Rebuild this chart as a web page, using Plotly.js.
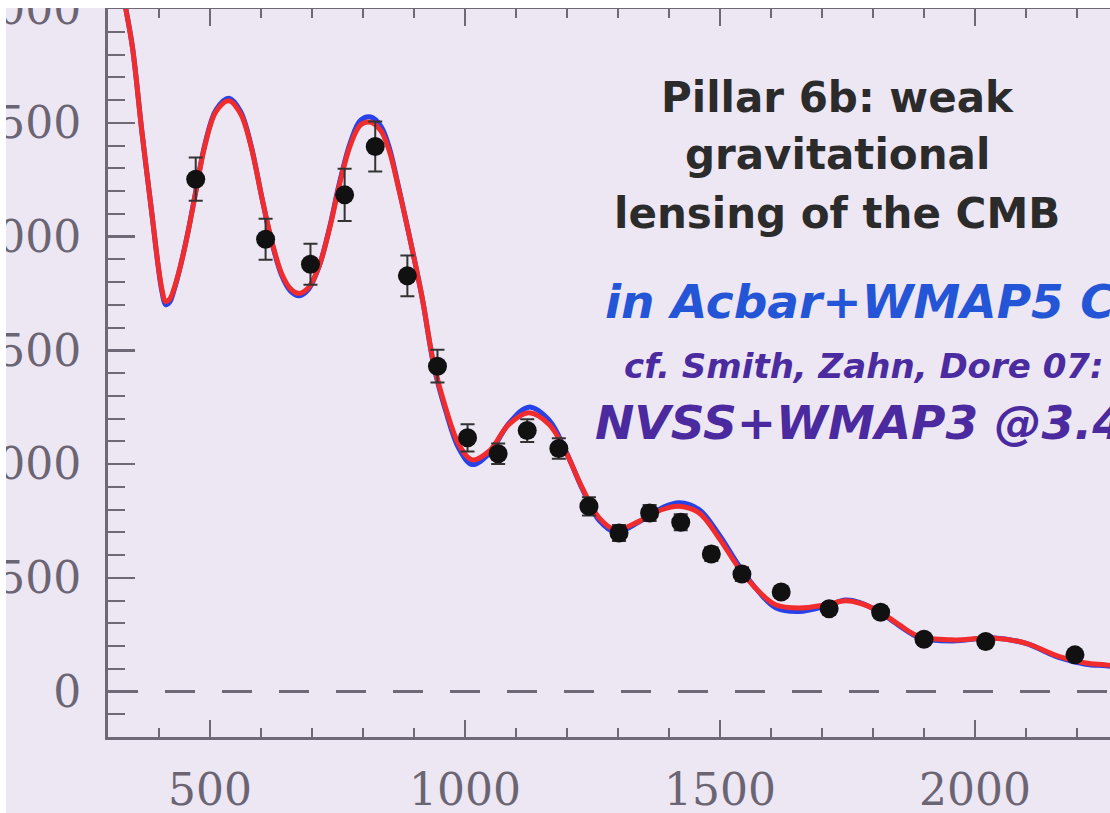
<!DOCTYPE html>
<html>
<head>
<meta charset="utf-8">
<script src="https://cdn.plot.ly/plotly-3.0.1.min.js"></script>
<style>
html, body { margin:0; padding:0; overflow:hidden; background:#ffffff; width:1110px; height:813px; }
#plot { position:absolute; left:0; top:0; }
.strip { position:absolute; background:#ffffff; pointer-events:none; z-index:10; }
</style>
</head>
<body>
<div id="plot"></div>
<div class="strip" style="left:0;top:0;width:1110px;height:8px;"></div>
<div class="strip" style="left:0;top:0;width:6px;height:813px;"></div>
<script>
// Multipole l of the measured band powers and their values
const dataL = [472, 609, 697, 764, 824, 887, 946, 1005, 1065, 1122, 1184, 1243, 1302, 1362, 1423, 1483, 1543, 1620, 1714, 1815, 1900, 2021, 2196];
const dataV = [2252, 1988, 1878, 2183, 2396, 1827, 1430, 1115, 1045, 1147, 1068, 814, 697, 785, 744, 604, 516, 437, 364, 348, 230, 220, 161];
const dataErr = [95, 90, 90, 115, 110, 90, 72, 60, 45, 50, 45, 40, 35, 35, 35, 30, 30, 25, 25, 25, 20, 20, 20];

// Lensed model (red)
const lensedL = [322, 335, 348, 367, 387, 398, 406, 413, 421, 430, 442, 457, 472, 490, 512, 537, 560, 580, 603, 620, 640, 658, 675, 693, 714, 735, 753, 775, 795, 815, 835, 851, 870, 890, 916, 939, 962, 988, 1014, 1047, 1086, 1125, 1165, 1197, 1230, 1263, 1295, 1341, 1387, 1420, 1459, 1498, 1537, 1576, 1609, 1655, 1707, 1746, 1773, 1812, 1851, 1890, 1955, 2034, 2099, 2164, 2217, 2257, 2300];
const lensedV = [3150, 3000, 2831, 2450, 2083, 1880, 1765, 1714, 1725, 1775, 1870, 2020, 2195, 2400, 2550, 2597, 2540, 2400, 2157, 1990, 1840, 1770, 1750, 1775, 1870, 2040, 2220, 2400, 2490, 2502, 2465, 2380, 2210, 2011, 1731, 1438, 1247, 1086, 1018, 1056, 1174, 1225, 1174, 1056, 895, 763, 711, 748, 800, 814, 785, 675, 543, 440, 381, 367, 381, 399, 389, 352, 294, 242, 227, 235, 213, 154, 125, 117, 105];

// Unlensed model (blue)
const unlensedL = lensedL;
const unlensedV = [3150, 3000, 2831, 2450, 2083, 1875, 1755, 1700, 1712, 1768, 1870, 2022, 2198, 2405, 2558, 2608, 2550, 2405, 2157, 1985, 1832, 1760, 1740, 1768, 1870, 2045, 2228, 2412, 2510, 2525, 2485, 2395, 2215, 2011, 1731, 1430, 1235, 1068, 998, 1045, 1178, 1250, 1192, 1060, 890, 752, 700, 745, 808, 830, 800, 690, 553, 438, 368, 352, 375, 402, 392, 350, 290, 238, 222, 236, 212, 150, 120, 113, 102];

// Axis tick settings
const xTickStep = 500, xMinorStep = 100;
const yTickStep = 500, yMinorStep = 100;

const bg = '#ede6f3';
const axc = '#6e6877';
const labc = '#6b6573';

const traces = [
  { x: unlensedL, y: unlensedV, mode:'lines', line:{color:'#2742e8', width:5, shape:'spline', smoothing:1}, hoverinfo:'skip' },
  { x: lensedL, y: lensedV, mode:'lines', line:{color:'#f02c2c', width:5, shape:'spline', smoothing:1}, hoverinfo:'skip' },
  { x: dataL, y: dataV, mode:'markers', marker:{color:'#111111', size:19},
    error_y:{type:'data', array:dataErr, visible:true, color:'#333333', thickness:2, width:7} }
];

const pxX = px => (px - 108) / 1122;
const pxY = py => (737 - py) / 728;

const titleFont = {family:'DejaVu Sans', size:42, color:'#2b2b2b', weight:'bold'};
const layout = {
  width:1300, height:813,
  margin:{l:108, r:70, t:9, b:76, pad:0},
  paper_bgcolor:bg, plot_bgcolor:bg,
  showlegend:false,
  xaxis:{
    range:[300, 2500], tick0:0, dtick:xTickStep, tickmode:'linear',
    ticks:'inside', ticklen:17, tickwidth:2.5, tickcolor:axc,
    minor:{dtick:xMinorStep, tick0:0, ticks:'inside', ticklen:9, tickwidth:2, tickcolor:axc},
    showline:true, linewidth:3, linecolor:axc, mirror:'ticks',
    showgrid:false, zeroline:false,
    tickfont:{family:'DejaVu Serif', size:44, color:labc},
    ticklabelstandoff:12, ticklabeloverflow:'allow'
  },
  yaxis:{
    range:[-200, 3000], tick0:0, dtick:yTickStep, tickmode:'linear',
    ticks:'inside', ticklen:27, tickwidth:2.5, tickcolor:axc,
    minor:{dtick:yMinorStep, tick0:0, ticks:'inside', ticklen:17, tickwidth:2, tickcolor:axc},
    showline:true, linewidth:3, linecolor:axc, mirror:'ticks',
    showgrid:false, zeroline:false,
    tickfont:{family:'DejaVu Serif', size:44, color:labc},
    ticklabelstandoff:15, ticklabeloverflow:'allow'
  },
  shapes:[
    {type:'line', xref:'paper', x0:0, x1:1, yref:'y', y0:0, y1:0,
     line:{color:axc, width:3, dash:'30px,27px'}, layer:'below'}
  ],
  annotations:[
    {text:'Pillar 6b: weak', xref:'paper', yref:'paper', x:pxX(837), y:pxY(97), xanchor:'center', yanchor:'middle', showarrow:false, font:titleFont},
    {text:'gravitational', xref:'paper', yref:'paper', x:pxX(837), y:pxY(155), xanchor:'center', yanchor:'middle', showarrow:false, font:titleFont},
    {text:'lensing of the CMB', xref:'paper', yref:'paper', x:pxX(837), y:pxY(213), xanchor:'center', yanchor:'middle', showarrow:false, font:titleFont},
    {text:'in Acbar+WMAP5 Cp', xref:'paper', yref:'paper', x:pxX(603), y:pxY(301), xanchor:'left', yanchor:'middle', showarrow:false,
     font:{family:'DejaVu Sans', size:47, color:'#2455d6', weight:'bold', style:'italic'}},
    {text:'cf. Smith, Zahn, Dore 07:', xref:'paper', yref:'paper', x:pxX(622), y:pxY(366), xanchor:'left', yanchor:'middle', showarrow:false,
     font:{family:'DejaVu Sans', size:34, color:'#4b2ca0', weight:'bold', style:'italic'}},
    {text:'NVSS+WMAP3 @3.4', xref:'paper', yref:'paper', x:pxX(593), y:pxY(422), xanchor:'left', yanchor:'middle', showarrow:false,
     font:{family:'DejaVu Sans', size:47, color:'#4a2a9e', weight:'bold', style:'italic'}}
  ]
};

Plotly.newPlot('plot', traces, layout, {staticPlot:true, displayModeBar:false});
</script>
</body>
</html>
